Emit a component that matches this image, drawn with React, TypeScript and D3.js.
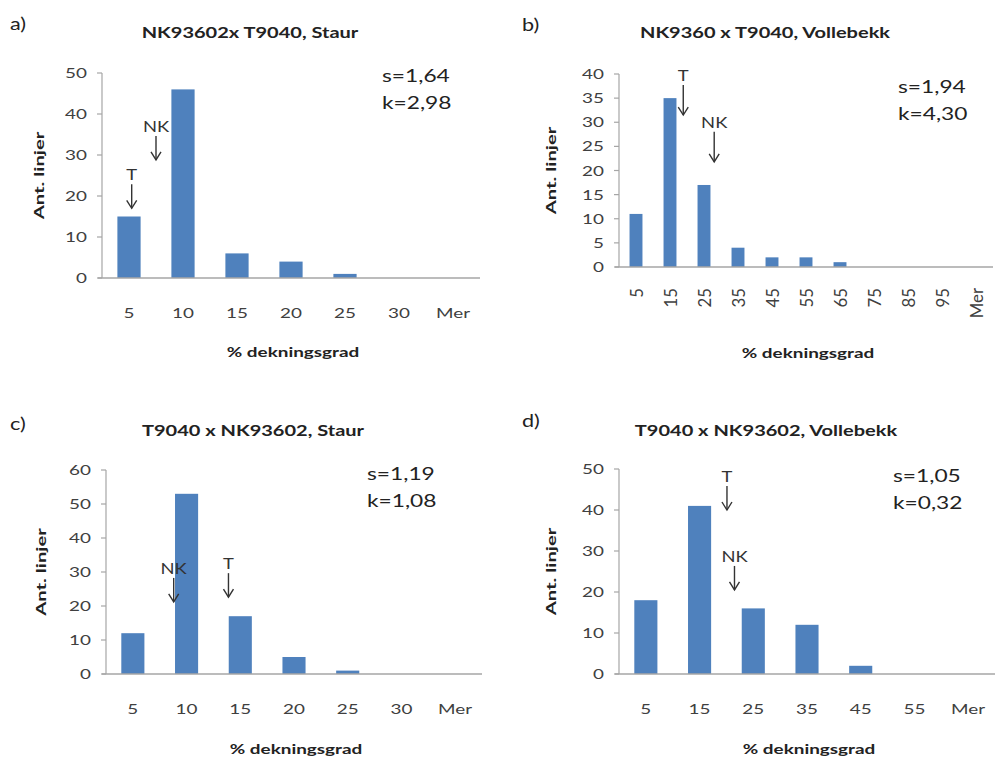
import React, { useRef, useEffect } from 'react';
import * as d3 from 'd3';

// Categories (% dekningsgrad bins)
const catsStaur = ['5', '10', '15', '20', '25', '30', 'Mer'];
const catsVolleB = ['5', '15', '25', '35', '45', '55', '65', '75', '85', '95', 'Mer'];
const catsVolleD = ['5', '15', '25', '35', '45', '55', 'Mer'];

// Ant. linjer per bin
const valsA = [15, 46, 6, 4, 1, 0, 0];
const valsB = [11, 35, 17, 4, 2, 2, 1, 0, 0, 0, 0];
const valsC = [12, 53, 17, 5, 1, 0, 0];
const valsD = [18, 41, 16, 12, 2, 0, 0];

// y tick values
const ticksA = [0, 10, 20, 30, 40, 50];
const ticksB = [0, 5, 10, 15, 20, 25, 30, 35, 40];
const ticksC = [0, 10, 20, 30, 40, 50, 60];
const ticksD = [0, 10, 20, 30, 40, 50];

// titles and skewness / kurtosis
const titles = ['NK93602x T9040, Staur', 'NK9360 x T9040, Vollebekk', 'T9040 x NK93602, Staur', 'T9040 x NK93602, Vollebekk'];
const letters = ['a)', 'b)', 'c)', 'd)'];
const skew = ['s=1,64', 's=1,94', 's=1,19', 's=1,05'];
const kurt = ['k=2,98', 'k=4,30', 'k=1,08', 'k=0,32'];

// parent markers: [label, category index position, value at arrow tip]
const markersA: [string, number, number][] = [['T', 0.05, 17], ['NK', 0.5, 28.8]];
const markersB: [string, number, number][] = [['T', 1.39, 31.5], ['NK', 2.3, 21.8]];
const markersC: [string, number, number][] = [['NK', 0.76, 21.2], ['T', 1.78, 22.6]];
const markersD: [string, number, number][] = [['T', 1.51, 40], ['NK', 1.65, 20.5]];

const FONT = 'Lato, Carlito, Calibri, sans-serif';
const BLUE = '#4f81bd';
const AXIS = '#a6a6a6';
const TXT = '#404040';
const DARK = '#222';

interface PanelCfg {
  cats: string[];
  vals: number[];
  ticks: number[];
  markers: [string, number, number][];
  left: number; right: number; top: number; bottom: number;
  ox: number; oy: number;
  rotate: boolean;
  letterY: number; titleY: number; noteX: number; noteY: number;
  yTitleX: number; xTitleY: number;
}

const panels: PanelCfg[] = [
  { cats: catsStaur, vals: valsA, ticks: ticksA, markers: markersA, left: 102, right: 480, top: 73, bottom: 278, ox: 0, oy: 0, rotate: false,
    letterY: 30, titleY: 38, noteX: 382, noteY: 82, yTitleX: 39, xTitleY: 357 },
  { cats: catsVolleB, vals: valsB, ticks: ticksB, markers: markersB, left: 619, right: 993, top: 74, bottom: 267, ox: 500, oy: 0, rotate: true,
    letterY: 31, titleY: 38, noteX: 898, noteY: 93, yTitleX: 551, xTitleY: 358 },
  { cats: catsStaur, vals: valsC, ticks: ticksC, markers: markersC, left: 106, right: 482, top: 470, bottom: 674, ox: 0, oy: 380, rotate: false,
    letterY: 430, titleY: 436, noteX: 367, noteY: 480, yTitleX: 41, xTitleY: 754 },
  { cats: catsVolleD, vals: valsD, ticks: ticksD, markers: markersD, left: 619, right: 995, top: 469, bottom: 674, ox: 500, oy: 380, rotate: false,
    letterY: 427, titleY: 436, noteX: 893, noteY: 482, yTitleX: 551, xTitleY: 754 },
];

const App: React.FC = () => {
  const svgRef = useRef<SVGSVGElement>(null);

  useEffect(() => {
    if (!svgRef.current) return;
    const svg = d3.select(svgRef.current);
    svg.selectAll('*').remove();

    // text helper; the scanned figure has wide glyphs, so stretch along / across the text direction
    const label = (g: any, x: number, y: number, s: string, opts: any = {}) => {
      const along = opts.along ?? 1.3;
      const across = opts.across ?? 1;
      g.append('text')
        .attr('transform', `translate(${x},${y})${opts.rot ? ' rotate(-90)' : ''} scale(${along},${across})`)
        .attr('text-anchor', opts.anchor || 'middle')
        .attr('font-family', FONT)
        .attr('font-size', opts.size || 14)
        .attr('font-weight', opts.bold ? 'bold' : 'normal')
        .attr('fill', opts.fill || TXT)
        .attr('dominant-baseline', opts.baseline || 'auto')
        .text(s);
    };

    panels.forEach((p, pi) => {
      const g = svg.append('g');
      const yMax = p.ticks[p.ticks.length - 1];
      const y = d3.scaleLinear().domain([0, yMax]).range([p.bottom, p.top]);
      const pad = p.rotate ? 0.62 : 0.57;
      const x = d3.scaleBand<string>().domain(p.cats).range([p.left, p.right])
        .paddingInner(pad).paddingOuter(pad / 2);
      const xi = d3.scaleLinear().domain([-0.5, p.cats.length - 0.5]).range([p.left, p.right]);

      // bars
      g.append('g').selectAll('rect')
        .data(p.vals)
        .enter()
        .append('rect')
        .attr('x', (d, i) => x(p.cats[i]) as number)
        .attr('width', x.bandwidth())
        .attr('y', d => y(d))
        .attr('height', d => p.bottom - y(d))
        .attr('fill', BLUE);

      // y axis
      g.append('line')
        .attr('x1', p.left).attr('x2', p.left)
        .attr('y1', p.top).attr('y2', p.bottom)
        .attr('stroke', AXIS).attr('stroke-width', 1.2);
      p.ticks.forEach(t => {
        g.append('line')
          .attr('x1', p.left - 5).attr('x2', p.left)
          .attr('y1', y(t)).attr('y2', y(t))
          .attr('stroke', AXIS).attr('stroke-width', 1.2);
        label(g, p.left - 15, y(t), String(t), { anchor: 'end', size: 14, baseline: 'central', along: 1.35 });
      });

      // x axis
      g.append('line')
        .attr('x1', p.left - 4).attr('x2', p.right)
        .attr('y1', p.bottom).attr('y2', p.bottom)
        .attr('stroke', AXIS).attr('stroke-width', 1.6);

      p.cats.forEach(c => {
        const cx = (x(c) as number) + x.bandwidth() / 2;
        if (p.rotate) {
          label(g, cx, p.bottom + 21, c, { anchor: 'end', size: 14, rot: true, baseline: 'central', along: 1.2, across: 1.2 });
        } else {
          label(g, cx, p.bottom + 40, c, { size: 14, along: 1.35 });
        }
      });

      // parent markers
      p.markers.forEach(([m, idx, v]) => {
        const mx = xi(idx);
        const tip = y(v);
        const len = p.rotate ? 30 : 24;
        g.append('line')
          .attr('x1', mx).attr('x2', mx)
          .attr('y1', tip - len).attr('y2', tip)
          .attr('stroke', '#333').attr('stroke-width', 1.4);
        g.append('polyline')
          .attr('points', `${mx - 5},${tip - 8} ${mx},${tip} ${mx + 5},${tip - 8}`)
          .attr('fill', 'none')
          .attr('stroke', '#333').attr('stroke-width', 1.4);
        label(g, mx, tip - len - 4, m, { size: 16, fill: '#333', along: 1.15 });
      });

      // titles and notes
      const mid = (p.left + p.right) / 2;
      label(g, p.ox + (pi % 2 ? 22 : 10), p.letterY, letters[pi], { anchor: 'start', size: 18, fill: DARK, along: 1.2 });
      label(g, mid - 41, p.titleY, titles[pi], { size: 16, bold: true, fill: DARK, along: 1.25 });
      label(g, p.noteX, p.noteY, skew[pi], { anchor: 'start', size: 17.5, fill: DARK });
      label(g, p.noteX, p.noteY + 27, kurt[pi], { anchor: 'start', size: 17.5, fill: DARK });
      label(g, p.yTitleX, (p.top + p.bottom) / 2, 'Ant. linjer', { size: 13.5, bold: true, rot: true, fill: DARK, baseline: 'central', along: 1.5 });
      label(g, mid + 2, p.xTitleY, '% dekningsgrad', { size: 13.5, bold: true, fill: DARK, along: 1.4 });
    });
  }, []);

  return (
    <svg ref={svgRef} width={995} height={760}
      style={{ position: 'absolute', left: 0, top: 0, background: '#fff' }} />
  );
};

export default App;
